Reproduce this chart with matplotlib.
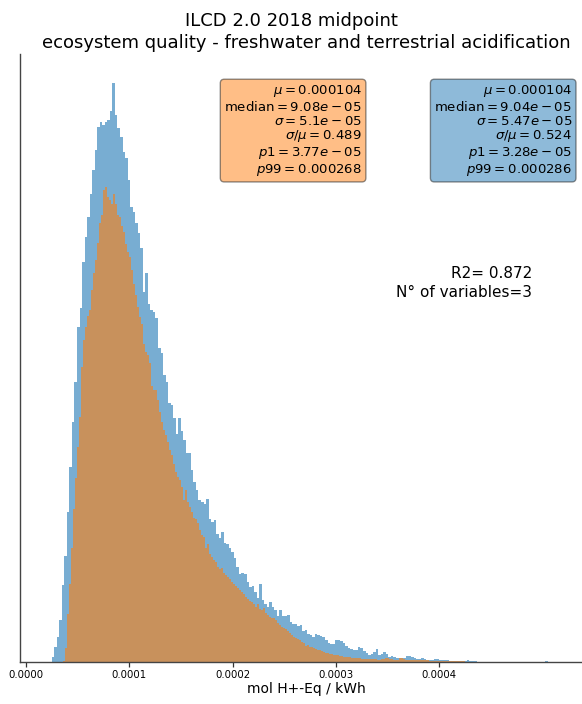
import numpy as np
import matplotlib
matplotlib.use("Agg")
import matplotlib.pyplot as plt

# Histogram counts (arbitrary units) for the two model variants
blue_counts = [
    5, 15, 25, 42, 77, 106, 150, 195, 240, 280, 335, 354, 400, 425, 445, 468, 492, 512,
    535, 540, 537, 540, 542, 551, 579, 547, 534, 525, 510, 504, 482, 455, 450, 439, 429, 414,
    370, 389, 358, 352, 350, 344, 314, 309, 287, 280, 259, 257, 244, 228, 244, 231, 222, 209,
    209, 192, 180, 172, 162, 160, 158, 163, 143, 140, 142, 128, 124, 130, 119, 118, 114,
    110, 104, 95, 88, 89, 88, 80, 75, 76, 70, 64, 78, 62, 58, 55, 60, 55, 52, 46, 52,
    46, 46, 47, 40, 38, 38, 36, 37, 31, 32, 28, 27, 25, 28, 27, 26, 25, 22, 19, 18,
    18, 22, 22, 21, 19, 16, 14, 13, 12, 12, 15, 14, 11, 9, 7, 8, 10, 13, 7, 8, 10, 8, 5, 6,
    5, 4, 4, 4, 4, 6, 6, 5, 4, 3, 3, 4, 3, 2, 2, 2, 3, 3, 2, 2, 2, 2, 1, 0.5, 0.5, 1,
    0.5, 0.5, 1, 2, 1, 0.5, 0.5, 0.3, 0.3, 0.3,
    0, 0, 0, 0, 0, 0, 0, 0, 0, 0, 0, 0, 0, 0, 0, 0, 0, 0, 0, 0, 0, 0, 0, 0, 0.5,
]
orange_counts = [
    1, 14, 48, 78, 114, 153, 184, 215, 245, 295, 322, 335, 346, 352, 372, 389, 402, 419,
    439, 447, 472, 475, 465, 462, 458, 468, 458, 447, 445, 436, 430, 418, 410, 405, 392,
    378, 367, 355, 345, 338, 318, 310, 307, 299, 276, 272, 272, 262, 250, 240, 232, 227,
    220, 212, 207, 198, 190, 185, 182, 175, 162, 172, 160, 155, 150, 144, 143, 139, 132,
    127, 125, 114, 118, 108, 105, 102, 100, 95, 93, 94, 89, 87, 85, 83, 80, 78, 76, 74,
    72, 70, 68, 65, 63, 61, 60, 58, 55, 58, 53, 52, 54, 49, 47, 45, 44, 44, 42, 39, 37,
    35, 34, 33, 31, 29, 27, 25, 24, 23, 22, 20, 19, 16, 17, 15, 15, 14, 13, 12, 12, 11,
    10, 9, 9, 8, 8, 7, 7, 7, 6, 6, 5, 5, 5, 5,
    4, 4, 4, 4, 4, 3, 3, 3, 3, 3, 3, 3, 3, 2, 2, 3, 3, 4, 4, 3, 3, 2, 2, 2, 4, 4, 3,
    2, 2, 2, 2, 2, 2, 1.5, 1.5, 1.5, 1.5, 1.5, 1.5, 1, 1, 1, 1,
    0.5, 0.5, 0.5, 0.5, 0.5, 0.5, 0.5, 0.5, 0.5, 0.5, 0.5, 0.5, 0.5, 0.5,
]

# Bin layout of each histogram: first edge and bin width (mol H+-Eq / kWh)
blue_first_edge, blue_bin_width = 2.49e-5, 2.45e-6
orange_first_edge, orange_bin_width = 3.611e-5, 1.936e-6

orange_stats = ["$\\mu=0.000104$", "median$=9.08e-05$", "$\\sigma=5.1e-05$",
                "$\\sigma/\\mu=0.489$", "$p1=3.77e-05$", "$p99=0.000268$"]
blue_stats = ["$\\mu=0.000104$", "median$=9.04e-05$", "$\\sigma=5.47e-05$",
              "$\\sigma/\\mu=0.524$", "$p1=3.28e-05$", "$p99=0.000286$"]

r2_value = 0.872
n_variables = 3

title_text = "ILCD 2.0 2018 midpoint     \necosystem quality - freshwater and terrestrial acidification"
xlabel_text = "mol H+-Eq / kWh"
xtick_values = [0.0, 0.0001, 0.0002, 0.0003, 0.0004]
xtick_labels = ["0.0000", "0.0001", "0.0002", "0.0003", "0.0004"]

fig = plt.figure(figsize=(5.82, 7.04), dpi=100)
ax = fig.add_axes([0.0352, 0.0597, 0.981, 0.8636])

blue_counts = np.asarray(blue_counts, dtype=float)
orange_counts = np.asarray(orange_counts, dtype=float)
blue_edges = blue_first_edge + blue_bin_width * np.arange(len(blue_counts) + 1)
orange_edges = orange_first_edge + orange_bin_width * np.arange(len(orange_counts) + 1)

ax.hist(blue_edges[:-1], bins=blue_edges, weights=blue_counts,
        histtype="stepfilled", color="tab:blue", alpha=0.6, lw=0)
ax.hist(orange_edges[:-1], bins=orange_edges, weights=orange_counts,
        histtype="stepfilled", color="tab:orange", alpha=0.6, lw=0)

ax.set_xlim(-5.3e-6, 5.474e-4)
ax.set_ylim(0, max(blue_counts.max(), orange_counts.max()) * 1.05)

ax.set_yticks([])
ax.set_xticks(xtick_values)
ax.set_xticklabels(xtick_labels, fontsize=7.3)
ax.tick_params(axis="x", length=3.5, width=0.9, color="#333333", pad=2.5)
for side in ("top", "right"):
    ax.spines[side].set_visible(False)
for side in ("left", "bottom"):
    ax.spines[side].set_color("#444444")
    ax.spines[side].set_linewidth(1.0)

ax.set_xlabel(xlabel_text, fontsize=10, labelpad=1.5)
ax.set_title(title_text, fontsize=13, pad=4, linespacing=1.3)

box_kw = dict(boxstyle="round,pad=0.3", alpha=0.5, edgecolor="#222222", lw=1.0)
ax.text(0.598, 0.952, "\n".join(orange_stats), transform=ax.transAxes,
        ha="right", va="top", multialignment="right", fontsize=9.5,
        linespacing=1.07, bbox=dict(facecolor="tab:orange", **box_kw))
ax.text(0.966, 0.952, "\n".join(blue_stats), transform=ax.transAxes,
        ha="right", va="top", multialignment="right", fontsize=9.5,
        linespacing=1.07, bbox=dict(facecolor="tab:blue", **box_kw))

ax.text(0.896, 0.623, f"R2= {r2_value}\nN° of variables={n_variables}",
        transform=ax.transAxes, ha="right", va="center",
        multialignment="right", fontsize=11, linespacing=1.35)

fig.savefig("out.png", dpi=100)
